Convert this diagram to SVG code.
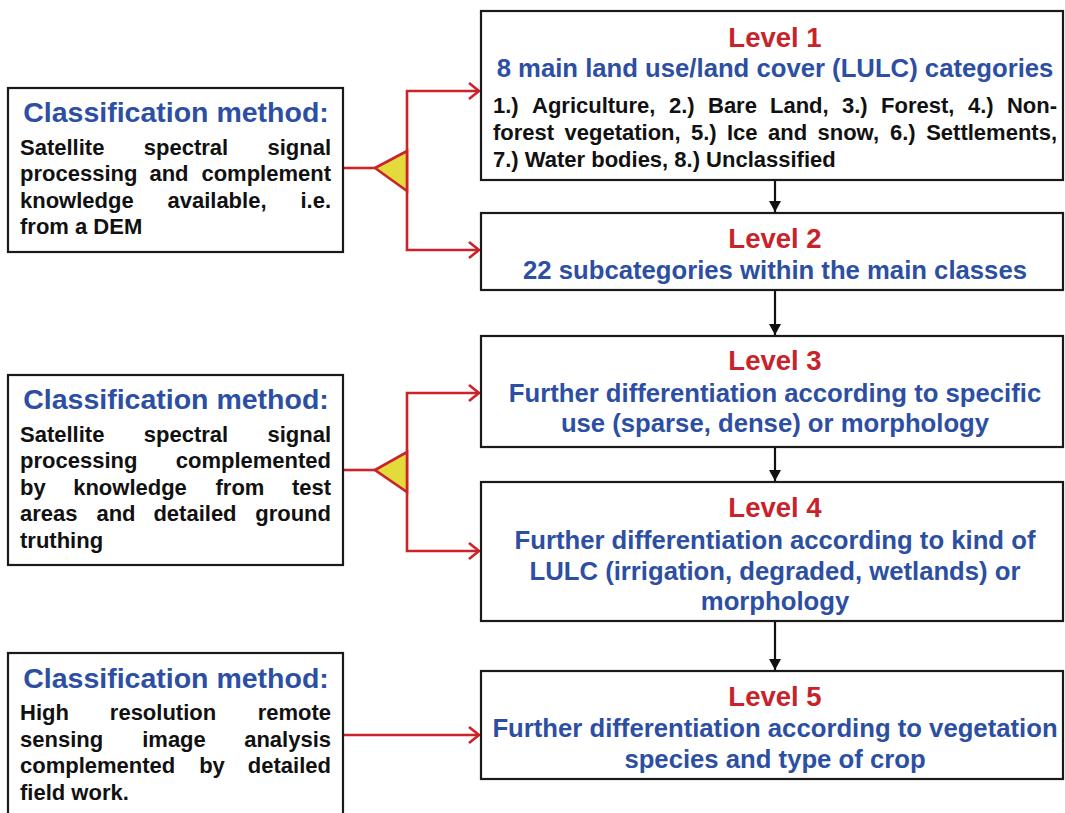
<svg xmlns="http://www.w3.org/2000/svg" width="1065" height="813" viewBox="0 0 1065 813">
<defs>
<style>
.box{fill:#fff;stroke:#1a1a1a;stroke-width:2.2}
.lvl{font-family:"Liberation Sans",Arial,sans-serif;font-weight:bold;font-size:27.5px;fill:#c8232b;text-anchor:middle}
.blue{font-family:"Liberation Sans",Arial,sans-serif;font-weight:bold;font-size:25.7px;fill:#2c4fa3;text-anchor:middle}
.cm{font-family:"Liberation Sans",Arial,sans-serif;font-weight:bold;font-size:28.5px;fill:#2c4fa3;text-anchor:middle}
.body{font-family:"Liberation Sans",Arial,sans-serif;font-weight:bold;font-size:22px;fill:#111}
.red{fill:none;stroke:#cc2229;stroke-width:2.6}
.tri{fill:#e2db3b;stroke:#cc2229;stroke-width:2.6;stroke-linejoin:miter}
.blk{fill:none;stroke:#111;stroke-width:2.2}
</style>
<marker id="ra" markerUnits="userSpaceOnUse" markerWidth="14" markerHeight="20" refX="11" refY="9" orient="auto">
<path d="M1,1 L11,9 L1,17" fill="none" stroke="#cc2229" stroke-width="2.6"/>
</marker>
<marker id="ba" markerUnits="userSpaceOnUse" markerWidth="12" markerHeight="14" refX="11" refY="6" orient="auto">
<path d="M0,0 L11,6 L0,12 Z" fill="#111"/>
</marker>
</defs>
<rect width="1065" height="813" fill="#fff"/>

<g id="connectors">
<line class="blk" x1="775" y1="181" x2="775" y2="212" marker-end="url(#ba)"/>
<line class="blk" x1="775" y1="291" x2="775" y2="335" marker-end="url(#ba)"/>
<line class="blk" x1="775" y1="448" x2="775" y2="481" marker-end="url(#ba)"/>
<line class="blk" x1="775" y1="622" x2="775" y2="670" marker-end="url(#ba)"/>

<line class="red" x1="343" y1="168" x2="375" y2="168"/>
<polyline class="red" points="407,168 407,91 479,91" marker-end="url(#ra)"/>
<polyline class="red" points="407,168 407,250 479,250" marker-end="url(#ra)"/>
<polygon class="tri" points="375,168 407,151 407,191"/>

<line class="red" x1="343" y1="470" x2="375" y2="470"/>
<polyline class="red" points="407,470 407,393 479,393" marker-end="url(#ra)"/>
<polyline class="red" points="407,470 407,551 479,551" marker-end="url(#ra)"/>
<polygon class="tri" points="375,470 407,452 407,492"/>

<line class="red" x1="339" y1="735" x2="479" y2="735" marker-end="url(#ra)"/>
</g>

<g id="method1">
<rect class="box" x="8" y="88" width="335" height="164"/>
<text class="cm" x="176" y="122">Classification method:</text>
<text class="body" y="155"><tspan x="20">Satellite</tspan><tspan x="186" text-anchor="middle">spectral</tspan><tspan x="331" text-anchor="end">signal</tspan></text>
<text class="body" y="181"><tspan x="20">processing</tspan><tspan x="169" text-anchor="middle">and</tspan><tspan x="331" text-anchor="end">complement</tspan></text>
<text class="body" y="208"><tspan x="20">knowledge</tspan><tspan x="217" text-anchor="middle">available,</tspan><tspan x="331" text-anchor="end">i.e.</tspan></text>
<text class="body" x="20" y="234">from a DEM</text>
</g>

<g id="method2">
<rect class="box" x="8" y="375" width="335" height="190"/>
<text class="cm" x="176" y="409">Classification method:</text>
<text class="body" y="442"><tspan x="20">Satellite</tspan><tspan x="186" text-anchor="middle">spectral</tspan><tspan x="331" text-anchor="end">signal</tspan></text>
<text class="body" y="468"><tspan x="20">processing</tspan><tspan x="331" text-anchor="end">complemented</tspan></text>
<text class="body" y="495"><tspan x="20">by</tspan><tspan x="130" text-anchor="middle">knowledge</tspan><tspan x="240" text-anchor="middle">from</tspan><tspan x="331" text-anchor="end">test</tspan></text>
<text class="body" y="521"><tspan x="20">areas</tspan><tspan x="116" text-anchor="middle">and</tspan><tspan x="195" text-anchor="middle">detailed</tspan><tspan x="331" text-anchor="end">ground</tspan></text>
<text class="body" x="20" y="548">truthing</text>
</g>

<g id="method3">
<rect class="box" x="8" y="653" width="335" height="170"/>
<text class="cm" x="176" y="688">Classification method:</text>
<text class="body" y="720"><tspan x="20">High</tspan><tspan x="163" text-anchor="middle">resolution</tspan><tspan x="331" text-anchor="end">remote</tspan></text>
<text class="body" y="747"><tspan x="20">sensing</tspan><tspan x="174" text-anchor="middle">image</tspan><tspan x="331" text-anchor="end">analysis</tspan></text>
<text class="body" y="773"><tspan x="20">complemented</tspan><tspan x="212" text-anchor="middle">by</tspan><tspan x="331" text-anchor="end">detailed</tspan></text>
<text class="body" x="20" y="800">field work.</text>
</g>

<g id="level1">
<rect class="box" x="481" y="11" width="582" height="169"/>
<text class="lvl" x="775" y="47">Level 1</text>
<text class="blue" x="775" y="77">8 main land use/land cover (LULC) categories</text>
<text class="body" y="113"><tspan x="493">1.)</tspan><tspan x="532">Agriculture,</tspan><tspan x="669">2.)</tspan><tspan x="708">Bare</tspan><tspan x="770">Land,</tspan><tspan x="842">3.)</tspan><tspan x="881">Forest,</tspan><tspan x="968">4.)</tspan><tspan x="1057" text-anchor="end">Non-</tspan></text>
<text class="body" y="140"><tspan x="493">forest</tspan><tspan x="564.5">vegetation,</tspan><tspan x="691">5.)</tspan><tspan x="727">Ice</tspan><tspan x="768">and</tspan><tspan x="817.5">snow,</tspan><tspan x="890">6.)</tspan><tspan x="1057" text-anchor="end">Settlements,</tspan></text>
<text class="body" x="493" y="167">7.) Water bodies, 8.) Unclassified</text>
</g>

<g id="level2">
<rect class="box" x="481" y="213" width="582" height="77"/>
<text class="lvl" x="775" y="248">Level 2</text>
<text class="blue" x="775" y="279">22 subcategories within the main classes</text>
</g>

<g id="level3">
<rect class="box" x="481" y="336" width="582" height="111"/>
<text class="lvl" x="775" y="370">Level 3</text>
<text class="blue" x="775" y="402">Further differentiation according to specific</text>
<text class="blue" x="775" y="432">use (sparse, dense) or morphology</text>
</g>

<g id="level4">
<rect class="box" x="481" y="482" width="582" height="139"/>
<text class="lvl" x="775" y="517">Level 4</text>
<text class="blue" x="775" y="549">Further differentiation according to kind of</text>
<text class="blue" x="775" y="580">LULC (irrigation, degraded, wetlands) or</text>
<text class="blue" x="775" y="610">morphology</text>
</g>

<g id="level5">
<rect class="box" x="481" y="671" width="582" height="108"/>
<text class="lvl" x="775" y="706">Level 5</text>
<text class="blue" x="775" y="737">Further differentiation according to vegetation</text>
<text class="blue" x="775" y="768">species and type of crop</text>
</g>
</svg>
